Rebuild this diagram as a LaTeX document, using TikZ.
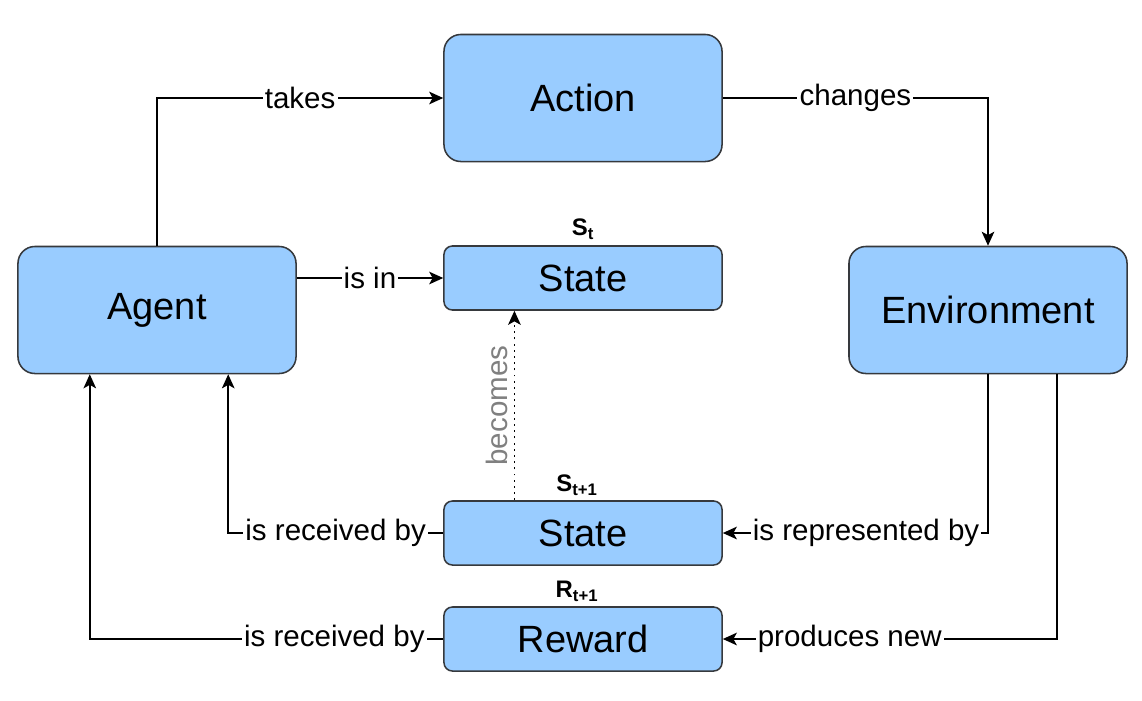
\documentclass[tikz,border=0pt]{standalone}
\usepackage{fontspec}
\setmainfont{Liberation Sans}
\usepackage{tikz}
\usetikzlibrary{arrows.meta, positioning}
\definecolor{boxfill}{HTML}{99CCFF}
\definecolor{boxline}{HTML}{36393D}

\begin{document}
\begin{tikzpicture}[
  x=0.025cm, y=-0.025cm,
  bigbox/.style={
    rectangle, rounded corners=12pt, draw=boxline, line width=1.1pt,
    fill=boxfill, minimum width=6.95cm, minimum height=3.175cm,
    align=center, font=\fontsize{27}{32}\selectfont
  },
  flatbox/.style={bigbox, rounded corners=6pt, minimum height=1.6cm},
  arr/.style={-{Stealth[length=10pt, width=9pt, inset=2.5pt]}, line width=1.1pt, black},
  lbl/.style={fill=white, inner sep=1.5pt, font=\fontsize{21}{24}\selectfont},
  sub/.style={font=\fontsize{17}{20}\selectfont\bfseries, inner sep=1pt}
]
  \useasboundingbox (0,0) rectangle (1142,700);

  \node[bigbox] (action) at (583,98) {Action};
  \node[bigbox] (agent) at (157,310) {Agent};
  \node[bigbox] (env) at (988,310) {Environment};
  \node[flatbox] (stateA) at (583,278) {State};
  \node[flatbox] (stateB) at (583,533) {State};
  \node[flatbox] (reward) at (583,639) {Reward};

  \node[sub, above=3pt of stateA] (st) {S\textsubscript{t}};
  \node[sub, above=2pt of stateB, xshift=-0.15cm] (stn) {S\textsubscript{t+1}};
  \node[sub, above=2pt of reward, xshift=-0.15cm] (rtn) {R\textsubscript{t+1}};

  \draw[arr] (agent.north) |- node[lbl, pos=0.75] {takes} (action.west);
  \draw[arr] (action.east) -| node[lbl, pos=0.25] {changes} (env.north);
  \draw[arr] (stateA.west -| agent.east) -- node[lbl] {is in} (stateA.west);
  \draw[arr, dash pattern=on 1.4pt off 3pt] ([xshift=1.78cm]stateB.north west) -- node[left=1pt, rotate=90, anchor=south, text=black!50, font=\fontsize{21}{24}\selectfont] (bec) {becomes} ([xshift=1.78cm]stateA.south west);
  \draw[arr] (env.south) |- node[lbl, pos=0.73] {is represented by} (stateB.east);
  \draw[arr] ([xshift=1.72cm]env.south) |- node[lbl, pos=0.81] {produces new} (reward.east);
  \draw[arr] (stateB.west) -| node[lbl, pos=0.25] {is received by} ([xshift=1.78cm]agent.south);
  \draw[arr] (reward.west) -| node[lbl, pos=0.154] {is received by} ([xshift=-1.68cm]agent.south);
\end{tikzpicture}
\end{document}
